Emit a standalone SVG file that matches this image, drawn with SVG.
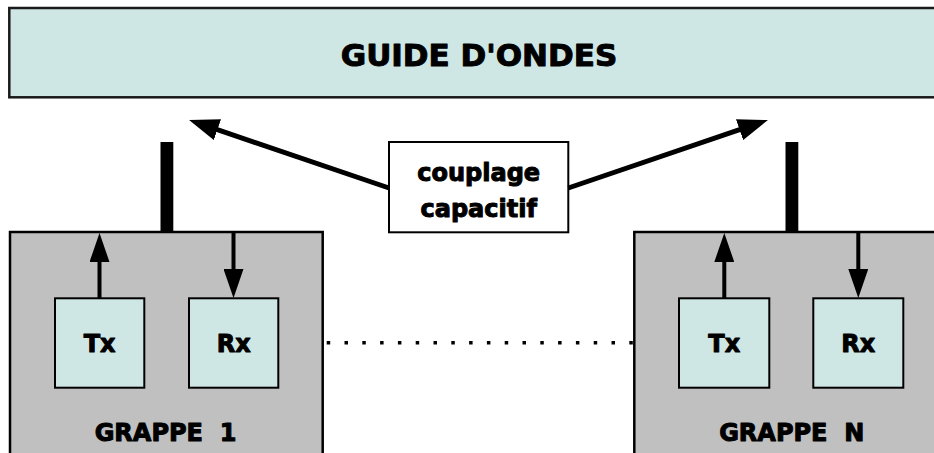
<svg xmlns="http://www.w3.org/2000/svg" width="934" height="453" viewBox="0 0 934 453">
  <style>
    .guide { fill: #cfe7e4; stroke: #1a1a1a; stroke-width: 2.5; }
    .grp { fill: #c0c0c0; stroke: #000; stroke-width: 2.5; }
    .unit { fill: #cfe7e4; stroke: #000; stroke-width: 2; }
    .note { fill: #fff; stroke: #000; stroke-width: 2; }
    .bar { fill: #000; }
    .t { font-family: "DejaVu Sans", "Liberation Sans", sans-serif; font-weight: bold; fill: #000; stroke: #000; stroke-width: 1; stroke-linejoin: round; text-anchor: middle; }
    .big { font-size: 31px; }
    .mid { font-size: 24px; }
    .arr { stroke: #000; stroke-width: 5; fill: none; }
    .sarr { stroke: #000; stroke-width: 4; fill: none; }
    .dots { stroke: #000; stroke-width: 3.5; stroke-dasharray: 3.5 14.3; fill: none; }
  </style>
  <defs>
    <marker id="ahBig" viewBox="0 0 30 22" refX="14" refY="11" markerWidth="30" markerHeight="22" markerUnits="userSpaceOnUse" orient="auto">
      <path d="M0,0 L30,11 L0,22 z" fill="#000"/>
    </marker>
    <marker id="ahSmall" viewBox="0 0 29 20" refX="13" refY="10" markerWidth="29" markerHeight="20" markerUnits="userSpaceOnUse" orient="auto">
      <path d="M0,0 L29,10 L0,20 z" fill="#000"/>
    </marker>
  </defs>

  <g id="guide">
    <rect class="guide" x="9.3" y="8" width="940" height="89.3"/>
    <text class="t big" x="479" y="66">GUIDE D'ONDES</text>
  </g>

  <g id="couplage">
    <rect class="note" x="389" y="142" width="179.3" height="90.3"/>
    <text class="t mid" x="478.7" y="180.5">couplage</text>
    <text class="t mid" x="478.7" y="216.5">capacitif</text>
  </g>

  <g id="grappe1">
    <rect class="grp" x="10" y="232" width="312.7" height="240"/>
    <rect class="bar" x="160.5" y="142" width="12.8" height="91"/>
    <text class="t mid" x="165.5" y="440.5" xml:space="preserve">GRAPPE  1</text>
  </g>
  <g id="tx1">
    <rect class="unit" x="55" y="298.3" width="89.3" height="89.4"/>
    <text class="t mid" x="99.6" y="352">Tx</text>
  </g>
  <g id="rx1">
    <rect class="unit" x="189" y="298.3" width="89.3" height="89.4"/>
    <text class="t mid" x="233.7" y="352">Rx</text>
  </g>

  <g id="grappeN">
    <rect class="grp" x="634.3" y="232" width="320" height="240"/>
    <rect class="bar" x="785.5" y="142" width="12.8" height="91"/>
    <text class="t mid" x="791.7" y="440.5" xml:space="preserve">GRAPPE  N</text>
  </g>
  <g id="txN">
    <rect class="unit" x="679" y="298.3" width="90.3" height="89.4"/>
    <text class="t mid" x="724.2" y="352">Tx</text>
  </g>
  <g id="rxN">
    <rect class="unit" x="813.3" y="298.3" width="90" height="89.4"/>
    <text class="t mid" x="858.3" y="352">Rx</text>
  </g>

  <g id="connectors">
    <line class="arr" x1="389" y1="188" x2="204.2" y2="125.2" marker-end="url(#ahBig)"/>
    <line class="arr" x1="568.3" y1="188" x2="752.8" y2="125.2" marker-end="url(#ahBig)"/>
    <line class="sarr" x1="99.5" y1="298.3" x2="99.5" y2="249" marker-end="url(#ahSmall)"/>
    <line class="sarr" x1="233.5" y1="233" x2="233.5" y2="282" marker-end="url(#ahSmall)"/>
    <line class="sarr" x1="724.3" y1="298.3" x2="724.3" y2="249" marker-end="url(#ahSmall)"/>
    <line class="sarr" x1="858.3" y1="233" x2="858.3" y2="282" marker-end="url(#ahSmall)"/>
    <line class="dots" x1="326.7" y1="342.7" x2="636" y2="342.7"/>
  </g>
</svg>
